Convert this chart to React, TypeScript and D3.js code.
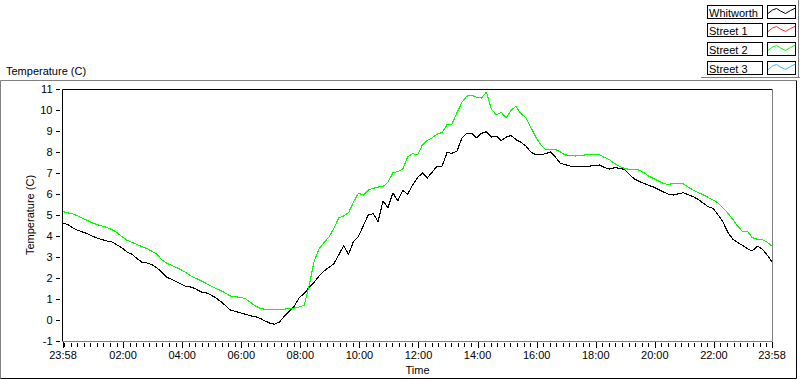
import React from 'react';
import * as d3 from 'd3';

// Time axis: 24 h starting at 23:58, samples every 10 minutes
const startTime = new Date(2024, 0, 1, 23, 58);
const stepMinutes = 10;

const whitworth = [
  4.60, 4.55, 4.38, 4.27, 4.19, 4.10, 3.99, 3.90, 3.82, 3.76,
  3.71, 3.57, 3.43, 3.24, 3.13, 2.93, 2.76, 2.72, 2.64, 2.50,
  2.29, 2.05, 1.94, 1.83, 1.71, 1.60, 1.57, 1.48, 1.34, 1.30,
  1.20, 1.06, 0.89, 0.69, 0.47, 0.41, 0.34, 0.28, 0.20, 0.17,
  0.08, -0.04, -0.15, -0.20, -0.09, 0.19, 0.42, 0.67, 1.07, 1.26,
  1.56, 1.80, 2.09, 2.33, 2.51, 2.67, 3.10, 3.53, 3.13, 3.74,
  3.98, 4.49, 5.00, 5.06, 4.69, 5.67, 5.34, 6.05, 5.68, 6.17,
  5.99, 6.43, 6.78, 7.00, 6.76, 7.05, 7.33, 7.33, 7.97, 7.94,
  8.03, 8.66, 8.89, 8.89, 8.67, 8.89, 8.97, 8.71, 8.76, 8.55,
  8.71, 8.79, 8.59, 8.46, 8.29, 8.00, 7.88, 7.86, 7.92, 8.00,
  7.76, 7.46, 7.40, 7.33, 7.31, 7.31, 7.32, 7.33, 7.36, 7.38,
  7.26, 7.19, 7.25, 7.23, 7.17, 6.95, 6.72, 6.60, 6.50, 6.41,
  6.33, 6.21, 6.09, 5.99, 5.95, 6.01, 6.06, 5.96, 5.87, 5.75,
  5.57, 5.40, 5.32, 5.02, 4.69, 4.19, 3.86, 3.69, 3.56, 3.39,
  3.29, 3.52, 3.38, 3.10, 2.76,
];

const street1: number[] = [];

const street2 = [
  5.16, 5.10, 5.05, 4.96, 4.84, 4.74, 4.62, 4.54, 4.47, 4.40,
  4.30, 4.15, 3.97, 3.80, 3.70, 3.60, 3.50, 3.41, 3.28, 3.15,
  2.88, 2.71, 2.61, 2.50, 2.39, 2.25, 2.10, 1.98, 1.88, 1.75,
  1.62, 1.51, 1.40, 1.28, 1.14, 1.11, 1.08, 1.02, 0.85, 0.68,
  0.56, 0.51, 0.48, 0.49, 0.51, 0.52, 0.54, 0.57, 0.62, 0.71,
  1.64, 2.79, 3.38, 3.68, 3.95, 4.35, 4.87, 4.95, 5.11, 5.61,
  6.04, 5.95, 6.19, 6.27, 6.33, 6.35, 6.57, 7.01, 7.07, 7.18,
  7.77, 7.92, 7.86, 8.34, 8.55, 8.68, 8.85, 8.93, 9.30, 9.33,
  9.86, 10.36, 10.66, 10.71, 10.60, 10.57, 10.85, 10.04, 9.77, 9.89,
  9.63, 9.99, 10.17, 9.83, 9.64, 9.18, 8.72, 8.35, 8.12, 8.13,
  8.12, 8.00, 7.86, 7.84, 7.81, 7.82, 7.86, 7.89, 7.88, 7.86,
  7.74, 7.63, 7.46, 7.32, 7.22, 7.17, 7.16, 7.14, 7.01, 6.85,
  6.73, 6.61, 6.50, 6.45, 6.51, 6.52, 6.48, 6.32, 6.19, 6.07,
  5.96, 5.84, 5.72, 5.58, 5.34, 5.10, 4.81, 4.47, 4.22, 4.23,
  3.92, 3.85, 3.83, 3.71, 3.52,
];

const street3: number[] = [];

const seriesNames = ['Whitworth', 'Street 1', 'Street 2', 'Street 3'];
const seriesColors = ['#000000', '#ff3333', '#00ff00', '#33bbff'];
const seriesData = [whitworth, street1, street2, street3];

const yTicks = [-1, 0, 1, 2, 3, 4, 5, 6, 7, 8, 9, 10, 11];
const yTitle = 'Temperature (C)';
const xTitle = 'Time';

const FONT = '"Liberation Sans", Arial, sans-serif';

export default function App() {
  const W = 800;
  const H = 380;
  const endTime = d3.timeMinute.offset(startTime, 1440);
  const x = d3.scaleTime().domain([startTime, endTime]).range([63, 772]);
  const y = d3.scaleLinear().domain([-1, 11]).range([341, 89]);

  const line = d3
    .line<number>()
    .x((_, i) => x(d3.timeMinute.offset(startTime, i * stepMinutes)))
    .y((d) => y(d));

  // Major ticks: ends + every 2 hours
  const evenHours = d3.timeHour
    .every(2)!
    .range(d3.timeMinute.offset(startTime, 30), d3.timeMinute.offset(endTime, -30));
  const majors = [startTime, ...evenHours, endTime];
  // Minor ticks: 9 subdivisions of each 2 h interval from midnight
  const midnight = d3.timeMinute.offset(startTime, 2);
  const minors: Date[] = [];
  for (let k = 0; ; k++) {
    const t = new Date(midnight.getTime() + k * (7200000 / 9));
    if (t >= endTime) break;
    if (k % 9 === 0 && k > 0) continue;
    minors.push(t);
  }
  const fmt = d3.timeFormat('%H:%M');

  const legendRowTop = (i: number) => Math.round(4.5 + i * 18.7);
  const swatch = [
    [0.5, 8],
    [5, 4.5],
    [9, 3],
    [13, 5.5],
    [18, 8],
    [23, 5],
    [28, 2.5],
  ];

  return (
    <svg
      width={W}
      height={H}
      style={{ position: 'absolute', left: 0, top: 0, background: '#fff' }}
      fontFamily={FONT}
      fontSize={11}
    >
      <rect x={0} y={0} width={W} height={H} fill="#fff" />

      {/* Title at top-left */}
      <text x={6} y={75} fill="#000">
        {yTitle}
      </text>

      {/* Outer frame */}
      <line x1={0.5} y1={80.5} x2={796.5} y2={80.5} stroke="#808080" />
      <line x1={0.5} y1={80.5} x2={0.5} y2={378.5} stroke="#808080" />
      <line x1={796.5} y1={80.5} x2={796.5} y2={378.5} stroke="#000" />
      <line x1={0.5} y1={378.5} x2={796.5} y2={378.5} stroke="#000" />

      {/* Plot frame */}
      <line x1={62.5} y1={89.5} x2={772.5} y2={89.5} stroke="#000" />
      <line x1={62.5} y1={89.5} x2={62.5} y2={341.5} stroke="#000" />
      <line x1={772.5} y1={89.5} x2={772.5} y2={341.5} stroke="#808080" />
      <line x1={63} y1={341.5} x2={772.5} y2={341.5} stroke="#808080" />

      {/* Y ticks and labels */}
      {yTicks.map((t) => (
        <g key={t}>
          <line
            x1={56}
            x2={60}
            y1={Math.round(y(t)) + 0.5}
            y2={Math.round(y(t)) + 0.5}
            stroke="#000"
          />
          <text x={52.5} y={y(t) + 4} textAnchor="end" fill="#000">
            {t}
          </text>
        </g>
      ))}

      {/* X ticks */}
      {minors.map((t, i) => (
        <line
          key={'m' + i}
          x1={Math.round(x(t)) + 0.5}
          x2={Math.round(x(t)) + 0.5}
          y1={343}
          y2={347}
          stroke="#000"
        />
      ))}
      {majors.map((t, i) => (
        <g key={'M' + i}>
          <line
            x1={Math.round(x(t)) + 0.5}
            x2={Math.round(x(t)) + 0.5}
            y1={342}
            y2={348}
            stroke="#000"
          />
          <text x={x(t)} y={358.5} textAnchor="middle" fill="#000">
            {fmt(t)}
          </text>
        </g>
      ))}

      {/* Axis titles */}
      <text x={417.5} y={374} textAnchor="middle" fill="#000">
        {xTitle}
      </text>
      <text
        transform="translate(34,215) rotate(-90)"
        textAnchor="middle"
        fill="#000"
      >
        {yTitle}
      </text>

      {/* Data */}
      <g>
        {seriesData.map((d, i) =>
          d.length ? (
            <path
              key={seriesNames[i]}
              d={line(d) || ''}
              fill="none"
              stroke={seriesColors[i]}
              strokeWidth={1.1}
              strokeLinejoin="round"
              shapeRendering="crispEdges"
            />
          ) : null
        )}
      </g>

      {/* Legend */}
      <line x1={701} y1={77.5} x2={800} y2={77.5} stroke="#808080" />
      <line x1={798.5} y1={0} x2={798.5} y2={77.5} stroke="#808080" />
      {seriesNames.map((name, i) => {
        const top = legendRowTop(i);
        return (
          <g key={name}>
            <rect
              x={707.5}
              y={top + 0.5}
              width={55}
              height={13}
              fill="#fff"
              stroke="#000"
            />
            <text x={709} y={top + 11.5} fill="#000">
              {name}
            </text>
            <rect
              x={767.5}
              y={top + 0.5}
              width={28}
              height={13}
              fill="#fff"
              stroke="#000"
            />
            <path
              d={
                d3.line<number[]>()
                  .x((p) => 767.5 + p[0])
                  .y((p) => top + p[1] + 0.5)(swatch) || ''
              }
              fill="none"
              stroke={seriesColors[i]}
              strokeWidth={1}
            />
          </g>
        );
      })}
    </svg>
  );
}
